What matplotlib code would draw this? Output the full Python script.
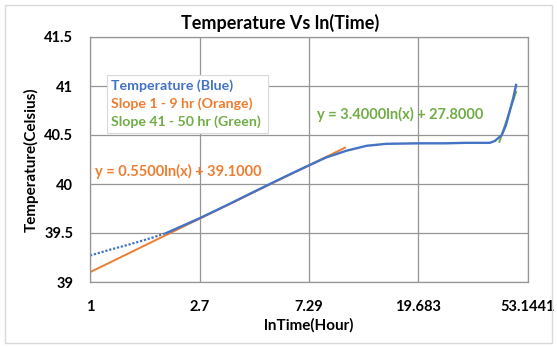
#!/usr/bin/env python3

import matplotlib
matplotlib.use('Agg')
import matplotlib.pyplot as plt
from matplotlib.patches import Rectangle

plt.rcParams['font.family'] = ['Lato', 'DejaVu Sans']

# Temperature readings (hours, Celsius) - early part drawn dotted
temp_dot_x = [1.0, 1.2, 1.415, 1.75, 2.0]
temp_dot_y = [39.27, 39.33, 39.38, 39.45, 39.50]
temp_x = [2.0, 2.7, 3.5, 4.5, 5.5, 6.5, 7.29, 8.5, 10.25, 12.3, 14.7, 19.7,
          25.0, 30.0, 35.0, 37.6, 39.4, 41.9, 43.5, 45.2, 46.5, 47.7]
temp_y = [39.50, 39.65, 39.79, 39.93, 40.04, 40.13, 40.19, 40.27, 40.34, 40.39,
          40.41, 40.415, 40.415, 40.42, 40.42, 40.42, 40.44, 40.50, 40.60,
          40.76, 40.88, 41.01]

# Trend lines (end points)
orange_x = [1.0, 10.1]
orange_y = [39.10, 40.37]
green_x = [41.0, 47.7]
green_y = [40.43, 40.94]

xticks = [1, 2.7, 7.29, 19.683, 53.1441]
xtick_labels = ['1', '2.7', '7.29', '19.683', '53.1441']
yticks = [39, 39.5, 40, 40.5, 41, 41.5]
ytick_labels = ['39', '39.5', '40', '40.5', '41', '41.5']

blue = '#4472C4'
orange = '#ED7D31'
green = '#70AD47'
grid = '#959595'

fig = plt.figure(figsize=(5.57, 3.47), dpi=100)
ax = fig.add_axes([90 / 557, 1 - 282 / 347, 438 / 557, 245 / 347])

# Chart border
fig.patches.append(Rectangle((5 / 557, 4 / 347), 547 / 557, 338 / 347,
                             transform=fig.transFigure, fill=False,
                             edgecolor='#d9d9d9', linewidth=1))

ax.plot(temp_dot_x, temp_dot_y, color=blue, linewidth=1.6, linestyle=(0, (1, 0.8)))
ax.plot(orange_x, orange_y, color=orange, linewidth=1.4)
ax.plot(green_x, green_y, color=green, linewidth=1.4)
ax.plot(temp_x, temp_y, color=blue, linewidth=1.7)

ax.set_xscale('log', base=2.7)
ax.set_xlim(1, 53.1441)
ax.set_ylim(39, 41.5)
ax.set_xticks(xticks)
ax.set_xticklabels(xtick_labels)
ax.set_yticks(yticks)
ax.set_yticklabels(ytick_labels)
ax.minorticks_off()
ax.tick_params(length=0, labelsize=10.5)
ax.tick_params(axis='x', pad=13)
ax.tick_params(axis='y', pad=12)
for lab in ax.get_xticklabels() + ax.get_yticklabels():
    lab.set_fontweight('bold')

ax.grid(True, color=grid, linewidth=0.9)
ax.set_axisbelow(True)
for s in ax.spines.values():
    s.set_color(grid)
    s.set_linewidth(0.9)

ax.set_xlabel('lnTime(Hour)', fontsize=11, fontweight='bold', labelpad=3)
ax.set_ylabel('Temperature(Celsius)', fontsize=11, fontweight='bold', labelpad=4)
fig.text(0.503, 1 - 23 / 347, 'Temperature Vs ln(Time)', ha='center', va='center',
         fontsize=13, fontweight='bold')

# Equations
ax.text((95 - 90) / 438, (282 - 171) / 245, 'y = 0.5500ln(x) + 39.1000',
        transform=ax.transAxes, color=orange, fontsize=10.5, fontweight='bold',
        va='center', ha='left')
ax.text((317 - 90) / 438, (282 - 114) / 245, 'y = 3.4000ln(x) + 27.8000',
        transform=ax.transAxes, color=green, fontsize=10.5, fontweight='bold',
        va='center', ha='left')

# Legend box
ax.add_patch(Rectangle(((107 - 90) / 438, (282 - 133) / 245), 161 / 438, 58 / 245,
                       transform=ax.transAxes, facecolor='white',
                       edgecolor='#d9d9d9', linewidth=0.8, zorder=3))
labels = ['Temperature (Blue)', 'Slope 1 - 9 hr (Orange)', 'Slope 41 - 50 hr (Green)']
colors = [blue, orange, green]
for i, (t, c) in enumerate(zip(labels, colors)):
    ax.text((111 - 90) / 438, (282 - 86 - 18 * i) / 245, t, transform=ax.transAxes,
            color=c, fontsize=10.2, fontweight='bold', va='center', ha='left', zorder=4)

fig.savefig('out.png', dpi=100)
